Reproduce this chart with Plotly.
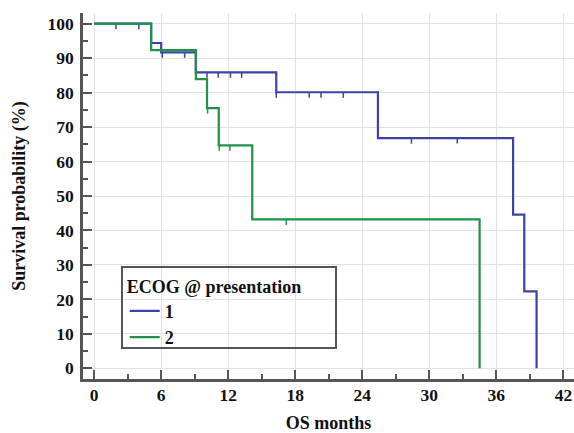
import numpy as np
import plotly.graph_objects as go

# ---- data ----
g1_time = [0, 5.1, 6.0, 9.1, 16.3, 25.4, 37.5, 38.5, 39.6]
g1_surv = [100, 94.4, 91.7, 85.9, 80.1, 66.8, 44.6, 22.3, 0]
g1_cens = [1.95, 4.0, 6.1, 8.1, 10.1, 11.1, 12.2, 13.2, 16.3, 19.25, 20.3, 22.3, 28.4, 32.5]

g2_time = [0, 5.1, 9.1, 10.1, 11.15, 14.15, 34.5]
g2_surv = [100, 92.3, 83.9, 75.5, 64.7, 43.2, 0]
g2_cens = [10.15, 11.2, 12.15, 17.2]

group_names = ["1", "2"]
colors = ["#3d43a6", "#1f9148"]
x_ticks = [0, 6, 12, 18, 24, 30, 36, 42]
y_ticks = [0, 10, 20, 30, 40, 50, 60, 70, 80, 90, 100]

FONT = "Liberation Serif"
AXC = "#555555"


def step_value(times, surv, t):
    i = np.searchsorted(np.asarray(times), t, side="right") - 1
    return surv[max(i, 0)]


def censor_segments(times, surv, cens, drop=1.6):
    xs, ys = [], []
    for t in cens:
        v = step_value(times, surv, t)
        xs += [t, t, None]
        ys += [v, v - drop, None]
    return xs, ys


fig = go.Figure()
series = [(g1_time, g1_surv, g1_cens), (g2_time, g2_surv, g2_cens)]
for (tt, ss, cc), name, col in zip(series, group_names, colors):
    fig.add_trace(go.Scatter(x=tt, y=ss, mode="lines", line=dict(color=col, width=2.2, shape="hv"),
                             name=name, showlegend=True))
    cx, cy = censor_segments(tt, ss, cc)
    fig.add_trace(go.Scatter(x=cx, y=cy, mode="lines", line=dict(color=col, width=1.5),
                             showlegend=False, hoverinfo="skip"))

axis_common = dict(
    showline=True, linecolor=AXC, linewidth=2.5, mirror=False,
    ticks="inside", tickcolor=AXC, tickwidth=2, ticklen=9,
    showgrid=True, gridcolor="#e2e2e2", gridwidth=1, zeroline=False,
    tickfont=dict(family=FONT, size=17.5, color="#111", weight="bold"),
)

fig.update_xaxes(range=[-1.0, 42.95], tickvals=x_ticks,
                 minor=dict(ticks="inside", ticklen=5, tickwidth=1.5, tickcolor=AXC, dtick=3, tick0=0, showgrid=False),
                 title=dict(text="OS months", font=dict(family=FONT, size=18, color="#111", weight="bold"), standoff=15),
                 ticklabelstandoff=-2,
                 **axis_common)
fig.update_yaxes(range=[-3.1, 103.1], tickvals=y_ticks,
                 minor=dict(ticks="inside", ticklen=5, tickwidth=1.5, tickcolor=AXC, dtick=5, tick0=0, showgrid=False),
                 title=dict(text="Survival probability (%)", font=dict(family=FONT, size=18, color="#111", weight="bold"), standoff=18),
                 ticklabelstandoff=3,
                 **axis_common)

fig.add_shape(type="rect", xref="paper", yref="paper", x0=0.0794, x1=0.5153, y0=0.0847, y1=0.306,
              line=dict(color=AXC, width=2), fillcolor="rgba(0,0,0,0)", layer="above")

fig.update_layout(
    width=574, height=433,
    margin=dict(l=83, r=0, t=13, b=54),
    paper_bgcolor="white", plot_bgcolor="white",
    legend=dict(x=0.085, y=0.300, xanchor="left", yanchor="top",
                bgcolor="rgba(0,0,0,0)", borderwidth=0,
                title=dict(text="ECOG @ presentation", font=dict(family=FONT, size=18, color="#111", weight="bold")),
                font=dict(family=FONT, size=18, color="#111", weight="bold"),
                itemwidth=30, tracegroupgap=0),
    showlegend=True,
)

fig.write_html("out.html")
